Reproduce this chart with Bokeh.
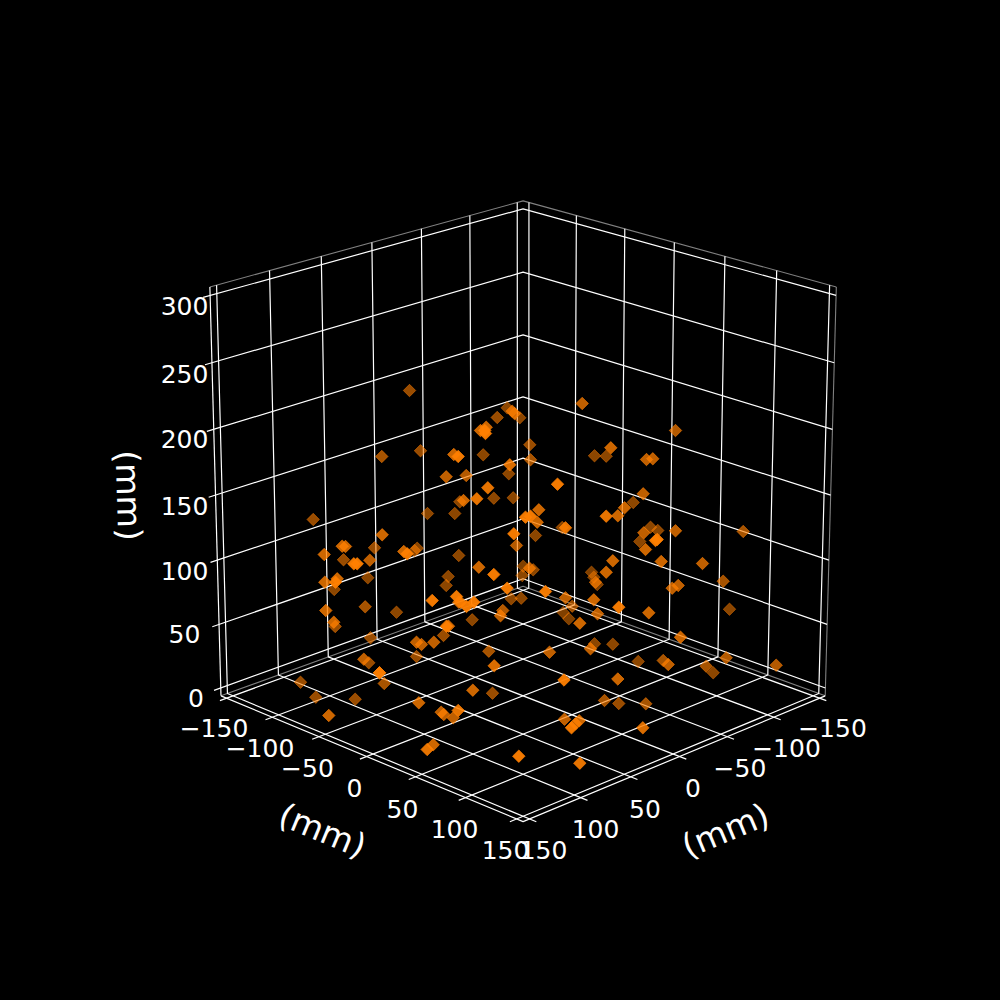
import math
import numpy as np
from bokeh.plotting import figure
from bokeh.models import Range1d
from bokeh.core.properties import value
from bokeh.embed import file_html
from bokeh.resources import INLINE

# Tick values
x_ticks = [-150, -100, -50, 0, 50, 100, 150]
y_ticks = [-150, -100, -50, 0, 50, 100, 150]
z_ticks = [0, 50, 100, 150, 200, 250, 300]
axis_label = "(mm)"

# Tick label anchors
y_label_x = [213.5, 259.5, 307, 354, 402, 454, 505]
y_label_y = [727, 747, 767, 787, 808, 828, 849]
x_label_x = [832, 786, 739.5, 692.5, 644.5, 595, 543]
x_label_y = [727, 747, 767, 787, 808, 828, 849]
z_label_x = [195.5, 184, 184, 184, 184, 184, 184]
z_label_y = [697, 633, 570, 505, 438, 373, 305]

# Scatter points as seen on the picture plane, with their depth shade
point_x = [312.7, 381.7, 427, 454.3, 341.7, 345, 374, 323.7, 343, 353.3, 356.7, 369.3, 403.3, 406.7, 416.7, 414,
           458.3, 324.3, 336.7, 335, 333.7, 367.3, 447.7, 445.7, 431.7, 456, 458.3, 325.3, 364.7, 396, 333.3, 334.7,
           446, 448, 443, 370, 416, 421, 433.3, 416, 363.3, 368.3, 379, 409, 506.7, 511.7, 514, 519.3, 496.7, 480,
           485.7, 484.3, 485, 529.3, 381.3, 420, 453.3, 457.7, 482.7, 530, 509.3, 508.3, 465.7, 445.7, 487.3, 493.3,
           476.3, 463, 459.3, 512.7, 525, 530, 538.3, 536.7, 513.3, 535, 516, 565, 561.7, 478.3, 493.3, 522.7,
           529, 532.7, 521.7, 506.7, 545, 466, 473.3, 460, 510.7, 520.7, 565, 571.7, 593.3, 597, 562.7, 568.3,
           579.3, 502.3, 500, 471.7, 591, 593.3, 596.7, 595, 605.7, 612.3, 618.3, 488.3, 549, 590, 594, 612.3,
           581.7, 675, 610.3, 605.7, 594, 646, 652.3, 557, 642.7, 632.7, 624, 605.7, 617.3, 650, 657.3, 643.3,
           675, 639.3, 656.7, 655, 645, 742.7, 660.7, 702, 677.7, 671.7, 722.7, 648.3, 729, 680, 637.7, 662.7,
           667.7, 725.7, 705.7, 712.7, 775.7, 617.3, 563.5, 379, 383.7, 493.7, 300, 315.3, 354.7, 328.3, 418.3,
           472.3, 492, 440.7, 443.3, 457.7, 452.7, 432.7, 426.7, 604, 618.3, 645.3, 564, 578.7, 571, 575, 642.3,
           518.3, 579.3]
point_y = [519, 534.3, 513, 513, 545.7, 546, 547.3, 554, 559.3, 563.3, 563.3, 559.7, 551, 553.3, 547.7, 550,
           555, 581.7, 578.3, 581.7, 589, 577.3, 576, 585, 600, 596, 601.7, 610, 606.3, 611.7, 621.7, 626,
           625.7, 625.7, 635, 637.3, 641.7, 644, 641.7, 656, 658.7, 662.3, 672.3, 390, 407.3, 410.7, 413, 417.3, 417, 430,
           426.7, 430, 433, 444.3, 456, 450.3, 454, 456, 454.3, 459.3, 464.3, 473.3, 475, 476.3, 487.3, 497.7,
           498.3, 500, 501.3, 497.3, 516.7, 515.7, 509.3, 521.7, 533.3, 535, 545, 527.3, 527, 566.7, 574, 565.7,
           567.7, 569.3, 575, 587.7, 591, 606, 601.7, 601.7, 598.3, 597.7, 597.3, 605.7, 599.3, 613.3, 612, 618.3,
           622.7, 610, 615.3, 619.3, 571.7, 576.7, 584, 581.7, 571.7, 560.3, 606.7, 650.7, 651.7, 648.3, 643.3, 643.7,
           403, 430, 447.3, 455.7, 455.3, 459, 458.3, 483.7, 493.3, 502, 507.3, 515.7, 515.3, 526.7, 530, 532.3,
           530.3, 541, 539, 540, 549, 531, 561, 563, 585, 587.7, 580.7, 612.3, 608.7, 636.7, 661, 660,
           664, 657.3, 665.7, 672.3, 664.7, 678.5, 679.5, 672.3, 683, 665.3, 681.7, 696.7, 698.7, 715, 702.3,
           689.7, 692.7, 711.7, 714, 710, 717.3, 744.3, 749, 700, 703, 703.3, 718.7, 720.3, 727.3, 723.3, 727.3,
           755.7, 762.7]
point_shade = [.6, .8, .55, .55, .8, .8, .6, .8, .6, .95, .95, .75, .8, .95, .55, .55,
               .55, .8, .8, .95, .55, .55, .55, .55, .95, .95, .8, .8, .65, .55, .8, .6,
               .95, .8, .6, .6, .75, .75, .75, .6, .75, .6, .85, .6, .55, .75, .75, .55, .6, .8,
               .8, .95, .95, .6, .65, .6, .8, .95, .55, .65, .85, .55, .7, .75, .9, .55,
               .9, .8, .55, .55, .95, .95, .8, .8, .95, .55, .7, .9, .55, .8, .95, .5,
               .75, .55, .55, .95, .95, .95, .95, .8, .55, .55, .75, .6, .8, .75, .5, .5,
               .8, .7, .75, .55, .5, .5, .5, .7, .8, .8, .95, .65, .75, .75, .55, .55,
               .75, .7, .8, .55, .55, .75, .75, .95, .75, .55, .8, .9, .8, .55, .55, .75,
               .75, .55, .95, .95, .8, .65, .8, .75, .75, .75, .65, .8, .55, .8, .55, .65,
               .75, .7, .65, .55, .7, .8, .95, .85, .65, .85, .6, .6, .6, .8, .8,
               .8, .6, .75, .75, .9, .75, .8, .9, .65, .6, .65, .75, .8, .95, .8, .85,
               .95, .9]

ORANGE = "#ff7f00"

# mplot3d-style camera
LIM = 156.25
ZMIN, ZMAX = -6.25, 306.25
ELEV, AZIM = math.radians(20), math.radians(45)
BOX = 1.8294640721620434 / math.sqrt(3)
DIST = 10.0
SCALE = 4118.0
CX, CY = 522.6, 494.6
OUT = 6.5

_w = np.array([math.cos(ELEV) * math.cos(AZIM), math.cos(ELEV) * math.sin(AZIM), math.sin(ELEV)])
_u = np.cross([0, 0, 1], _w); _u /= np.linalg.norm(_u)
_v = np.cross(_w, _u)


def project(x, y, z):
    p = np.array([x / (2 * LIM), y / (2 * LIM), (z - (ZMIN + ZMAX) / 2) / (ZMAX - ZMIN)]) * BOX
    d = p - DIST * _w
    zv = -np.dot(_w, d)
    return CX + SCALE * np.dot(_u, d) / zv, CY - SCALE * np.dot(_v, d) / zv


def path(points):
    pts = [project(*q) for q in points]
    return [a for a, _ in pts], [b for _, b in pts]


p = figure(width=984, height=984, output_backend="svg", toolbar_location=None,
           x_range=Range1d(0, 984), y_range=Range1d(984, 0),
           x_axis_type=None, y_axis_type=None, min_border=0,
           background_fill_color="black", border_fill_color="black", outline_line_color=None)
p.grid.visible = False

# Pane edges
pane = [
    [(LIM, -LIM, ZMAX), (-LIM, -LIM, ZMAX), (-LIM, LIM, ZMAX)],
    [(LIM, -LIM, ZMIN), (-LIM, -LIM, ZMIN), (-LIM, LIM, ZMIN)],
    [(-LIM, LIM, ZMIN), (-LIM, LIM, ZMAX)],
]
xs, ys = zip(*[path(q) for q in pane])
p.multi_line(list(xs), list(ys), line_color="white", line_alpha=0.5, line_width=1.1)

# Grid lines with their tick stubs
lines = []
for t in x_ticks:
    lines.append([(t, LIM + OUT, ZMIN), (t, -LIM, ZMIN), (t, -LIM, ZMAX)])
for t in y_ticks:
    lines.append([(LIM + OUT, t, ZMIN), (-LIM, t, ZMIN), (-LIM, t, ZMAX)])
for t in z_ticks:
    lines.append([(LIM + OUT, -LIM, t), (-LIM, -LIM, t), (-LIM, LIM, t)])
# Axis lines
lines.append([(LIM, -LIM, ZMIN), (LIM, LIM, ZMIN), (-LIM, LIM, ZMIN)])
lines.append([(LIM, -LIM, ZMIN), (LIM, -LIM, ZMAX)])
xs, ys = zip(*[path(q) for q in lines])
p.multi_line(list(xs), list(ys), line_color="white", line_width=1.2)

# Points: a rotated square gives the equal-sided diamond
p.scatter(point_x, point_y, marker="square", size=8.8, angle=math.pi / 4,
          fill_color=ORANGE, fill_alpha=point_shade,
          line_color=ORANGE, line_alpha=point_shade, line_width=0.8)


def labels(xv, yv, texts, size, angle=0.0):
    p.text(xv, yv, text=texts, text_color="white", text_font=value("DejaVu Sans"),
           text_font_size=size, text_align="center", text_baseline="middle", angle=angle)


def fmt(t):
    return str(t).replace("-", "\u2212")


labels(y_label_x, y_label_y, [fmt(t) for t in y_ticks], "25px")
labels(x_label_x, x_label_y, [fmt(t) for t in x_ticks], "25px")
labels(z_label_x, z_label_y, [fmt(t) for t in z_ticks], "25px")

labels([322], [830], [axis_label], "33.3px", angle=math.radians(-22.6))
labels([725], [830], [axis_label], "33.3px", angle=math.radians(22.6))
labels([128], [495], [axis_label], "33.3px", angle=math.radians(-88.4))

html = file_html(p, INLINE)
html = html.replace("</head>", "<style>html,body{background:#000}</style></head>", 1)
open("out.html", "w").write(html)
